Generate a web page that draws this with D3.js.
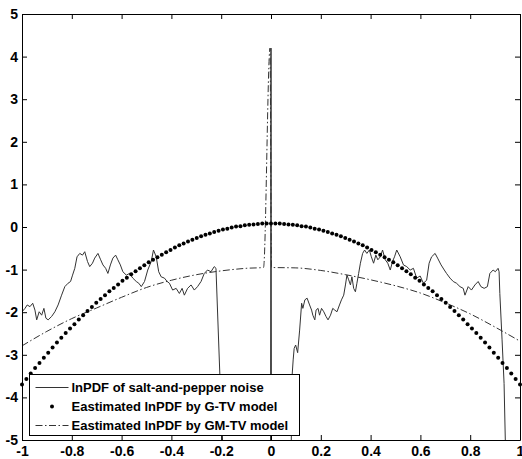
<!DOCTYPE html>
<html>
<head>
<meta charset="utf-8">
<script src="https://cdn.jsdelivr.net/npm/d3@7"></script>
<style>
  body { margin: 0; background: #fff; }
  svg { display: block; background: #fff; }
</style>
</head>
<body>
<svg id="chart" width="522" height="459"></svg>
<script>
// Axis ticks
const xTicks = [-1, -0.8, -0.6, -0.4, -0.2, 0, 0.2, 0.4, 0.6, 0.8, 1];
const xTickLabels = ["-1", "-0.8", "-0.6", "-0.4", "-0.2", "0", "0.2", "0.4", "0.6", "0.8", "1"];
const yTicks = [-5, -4, -3, -2, -1, 0, 1, 2, 3, 4, 5];
const yTickLabels = ["-5", "-4", "-3", "-2", "-1", "0", "1", "2", "3", "4", "5"];

// Legend entries
const legendLabels = [
  "lnPDF of salt-and-pepper noise",
  "Eastimated lnPDF by G-TV model",
  "Eastimated lnPDF by GM-TV model"
];

// Empirical lnPDF of salt-and-pepper noise (values below -5 fall outside the axes)
const noiseX = [-1.000,-0.988,-0.979,-0.968,-0.957,-0.948,-0.941,-0.931,-0.921,-0.912,-0.904,-0.895,-0.881,-0.868,-0.855,-0.841,-0.828,-0.815,-0.805,-0.797,-0.788,-0.779,-0.768,-0.757,-0.748,-0.737,-0.728,-0.717,-0.708,-0.695,-0.684,-0.675,-0.664,-0.655,-0.645,-0.635,-0.624,-0.615,-0.605,-0.595,-0.581,-0.568,-0.555,-0.541,-0.531,-0.521,-0.508,-0.495,-0.481,-0.472,-0.461,-0.451,-0.441,-0.428,-0.417,-0.408,-0.395,-0.381,-0.368,-0.357,-0.348,-0.335,-0.321,-0.308,-0.295,-0.281,-0.268,-0.255,-0.241,-0.228,-0.221,-0.204,-0.184,-0.002,0,0.002,0.078,0.085,0.089,0.093,0.099,0.107,0.115,0.123,0.128,0.136,0.145,0.155,0.163,0.168,0.176,0.181,0.189,0.195,0.203,0.212,0.221,0.229,0.239,0.248,0.256,0.265,0.275,0.283,0.292,0.299,0.305,0.312,0.319,0.325,0.332,0.339,0.345,0.352,0.359,0.368,0.376,0.385,0.395,0.403,0.412,0.421,0.429,0.439,0.448,0.459,0.469,0.479,0.488,0.496,0.505,0.519,0.532,0.545,0.559,0.572,0.585,0.599,0.612,0.625,0.635,0.645,0.659,0.669,0.683,0.696,0.705,0.719,0.732,0.745,0.759,0.772,0.779,0.792,0.805,0.819,0.832,0.843,0.856,0.869,0.879,0.892,0.901,0.912,0.916,0.919,0.928,0.936,0.941,0.944];
const noiseY = [-1.99,-1.91,-1.83,-1.87,-1.79,-1.95,-2.18,-1.99,-2.07,-1.91,-2.14,-2.18,-2.10,-1.99,-1.83,-1.60,-1.40,-1.32,-1.28,-1.13,-0.97,-0.70,-0.62,-0.66,-0.58,-0.81,-0.93,-0.85,-0.73,-0.62,-0.77,-0.89,-0.97,-1.09,-0.89,-0.73,-0.66,-0.77,-0.89,-1.05,-1.13,-1.09,-1.20,-1.28,-1.32,-1.40,-1.28,-1.01,-0.81,-0.54,-0.70,-1.05,-1.17,-1.20,-1.28,-1.32,-1.48,-1.44,-1.56,-1.44,-1.60,-1.44,-1.36,-1.48,-1.40,-1.28,-1.09,-1.01,-1.05,-0.93,-0.97,-3.70,-6.5,-6.5,4.2,-6.5,-6.5,-3.47,-3.12,-2.85,-2.77,-2.95,-2.42,-1.79,-1.91,-1.71,-1.67,-1.83,-1.95,-2.07,-2.18,-1.95,-1.91,-2.07,-1.91,-1.99,-2.10,-2.18,-2.07,-1.91,-1.95,-1.99,-1.83,-1.71,-1.60,-1.36,-1.13,-1.24,-1.36,-1.17,-1.44,-1.52,-1.32,-1.09,-0.85,-0.62,-0.54,-0.62,-0.54,-0.70,-0.85,-0.66,-0.77,-0.70,-0.54,-0.77,-0.85,-1.01,-0.81,-0.70,-0.54,-0.70,-0.89,-0.93,-1.01,-0.97,-1.20,-1.15,-1.32,-1.25,-0.85,-0.70,-0.62,-0.73,-0.89,-1.01,-1.09,-1.20,-1.28,-1.32,-1.40,-1.44,-1.60,-1.40,-1.48,-1.36,-1.28,-1.40,-1.44,-1.40,-1.09,-1.01,-1.05,-0.97,-1.05,-1.56,-2.65,-3.67,-5.0,-6.5];

// G-TV estimate, sampled on an evenly spaced grid over [-1, 1]
const gtvY = [-3.70,-3.57,-3.44,-3.31,-3.19,-3.07,-2.95,-2.83,-2.71,-2.60,-2.49,-2.38,-2.28,-2.17,-2.07,-1.97,-1.88,-1.78,-1.69,-1.60,-1.51,-1.43,-1.35,-1.26,-1.19,-1.11,-1.04,-0.97,-0.90,-0.83,-0.77,-0.71,-0.65,-0.59,-0.54,-0.48,-0.43,-0.39,-0.34,-0.30,-0.26,-0.22,-0.18,-0.15,-0.12,-0.09,-0.06,-0.04,-0.01,0.01,0.02,0.04,0.05,0.06,0.07,0.08,0.08,
  0.08,
  0.08,0.08,0.07,0.06,0.05,0.04,0.02,0.01,-0.01,-0.04,-0.06,-0.09,-0.12,-0.15,-0.18,-0.22,-0.26,-0.30,-0.34,-0.39,-0.43,-0.48,-0.54,-0.59,-0.65,-0.71,-0.77,-0.83,-0.90,-0.97,-1.04,-1.11,-1.19,-1.26,-1.35,-1.43,-1.51,-1.60,-1.69,-1.78,-1.88,-1.97,-2.07,-2.17,-2.28,-2.38,-2.49,-2.60,-2.71,-2.83,-2.95,-3.07,-3.19,-3.31,-3.44,-3.57,-3.70];
const gtvX = gtvY.map((_, i) => -1 + 2 * i / (gtvY.length - 1));

// GM-TV estimate (broad component plus a narrow peak at zero)
const gmtvX = [-1, -0.9, -0.8, -0.7, -0.6, -0.5, -0.4, -0.3, -0.2, -0.1, -0.03, -0.004, 0.002, 0.1, 0.2, 0.3, 0.4, 0.5, 0.6, 0.7, 0.8, 0.9, 1];
const gmtvY = [-2.79, -2.45, -2.15, -1.90, -1.65, -1.42, -1.25, -1.12, -1.03, -0.97, -0.95, 4.2, -0.95, -0.96, -1.02, -1.12, -1.24, -1.38, -1.55, -1.78, -2.04, -2.35, -2.68];

const FONT = "Arial, 'Liberation Sans', Helvetica, sans-serif";
const svg = d3.select("#chart");

const x = d3.scaleLinear().domain([-1, 1]).range([22, 520]);
const y = d3.scaleLinear().domain([-5, 5]).range([440, 14]);

svg.append("defs").append("clipPath").attr("id", "plotClip")
  .append("rect")
  .attr("x", x(-1)).attr("y", y(5))
  .attr("width", x(1) - x(-1) + 1).attr("height", y(-5) - y(5) + 1);

const plot = svg.append("g").attr("clip-path", "url(#plotClip)");

const line = d3.line().x(d => x(d[0])).y(d => y(d[1]));

// salt-and-pepper lnPDF
plot.append("path")
  .datum(noiseX.map((v, i) => [v, noiseY[i]]))
  .attr("fill", "none")
  .attr("stroke", "#333")
  .attr("stroke-width", 1)
  .attr("stroke-linejoin", "round")
  .attr("d", line);

// GM-TV dash-dot curve
plot.append("path")
  .datum(gmtvX.map((v, i) => [v, gmtvY[i]]))
  .attr("fill", "none")
  .attr("stroke", "#333")
  .attr("stroke-width", 1)
  .attr("stroke-dasharray", "7,2.5,1.5,2.5")
  .attr("d", line.curve(d3.curveMonotoneX));

// G-TV markers
svg.append("g").selectAll("circle")
  .data(gtvX.map((v, i) => [v, gtvY[i]]))
  .join("circle")
  .attr("cx", d => x(d[0]))
  .attr("cy", d => y(d[1]))
  .attr("r", 2)
  .attr("fill", "#000");

// Axes on all four sides, ticks pointing inward
function styleAxis(g) {
  g.attr("font-family", FONT).attr("font-size", 14);
  g.select(".domain").attr("stroke", "#000");
  g.selectAll(".tick line").attr("stroke", "#000");
  g.selectAll("text").attr("fill", "#000").attr("font-weight", "bold");
}

svg.append("g")
  .attr("transform", `translate(0,${y(-5)})`)
  .call(d3.axisBottom(x).tickValues(xTicks).tickFormat((d, i) => xTickLabels[i])
    .tickSize(-5).tickSizeOuter(0).tickPadding(6))
  .call(styleAxis);

svg.append("g")
  .attr("transform", `translate(0,${y(5)})`)
  .call(d3.axisTop(x).tickValues(xTicks).tickFormat("")
    .tickSize(-5).tickSizeOuter(0))
  .call(styleAxis);

svg.append("g")
  .attr("transform", `translate(${x(-1)},0)`)
  .call(d3.axisLeft(y).tickValues(yTicks).tickFormat((d, i) => yTickLabels[i])
    .tickSize(-5).tickSizeOuter(0).tickPadding(4))
  .call(styleAxis);

svg.append("g")
  .attr("transform", `translate(${x(1)},0)`)
  .call(d3.axisRight(y).tickValues(yTicks).tickFormat("")
    .tickSize(-5).tickSizeOuter(0))
  .call(styleAxis);

// Legend
const legend = svg.append("g").attr("transform", "translate(29.5,374.5)");
legend.append("rect")
  .attr("width", 270).attr("height", 61)
  .attr("fill", "#fff").attr("stroke", "#000").attr("stroke-width", 1);

const rowY = [13, 32, 51];
legend.append("line")
  .attr("x1", 6).attr("x2", 39).attr("y1", rowY[0]).attr("y2", rowY[0])
  .attr("stroke", "#333").attr("stroke-width", 1);
legend.append("circle")
  .attr("cx", 22.5).attr("cy", rowY[1]).attr("r", 2).attr("fill", "#000");
legend.append("line")
  .attr("x1", 6).attr("x2", 39).attr("y1", rowY[2]).attr("y2", rowY[2])
  .attr("stroke", "#333").attr("stroke-width", 1)
  .attr("stroke-dasharray", "7,2.5,1.5,2.5");

legend.selectAll("text.label")
  .data(legendLabels)
  .join("text")
  .attr("class", "label")
  .attr("x", 42)
  .attr("y", (d, i) => rowY[i] + 4.5)
  .attr("font-family", FONT)
  .attr("font-size", 13)
  .attr("font-weight", "bold")
  .attr("fill", "#000")
  .text(d => d);
</script>
</body>
</html>
